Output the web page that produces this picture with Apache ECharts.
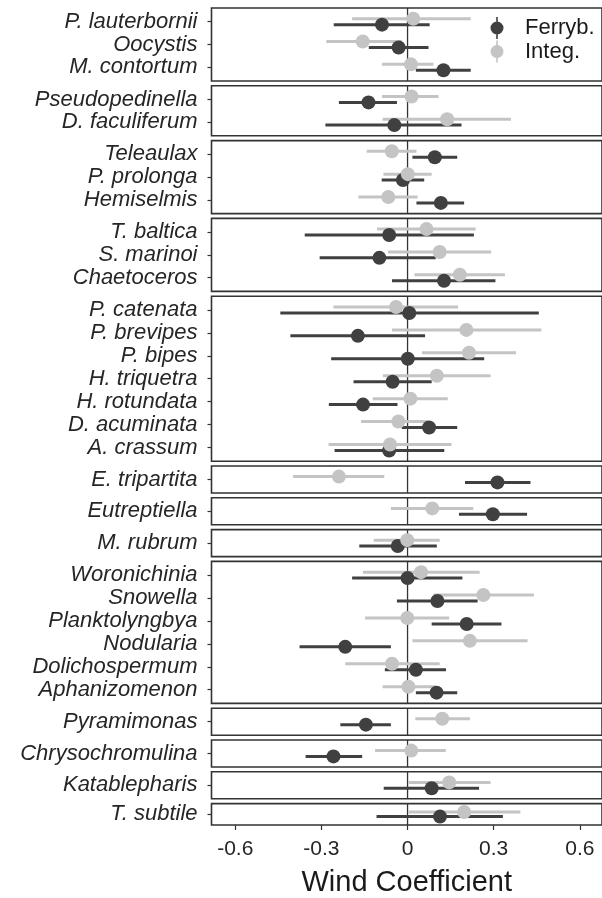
<!DOCTYPE html>
<html>
<head>
<meta charset="utf-8">
<script src="https://cdn.jsdelivr.net/npm/echarts@6/dist/echarts.min.js"></script>
<style>
html,body{margin:0;padding:0;background:#fff;}
#chart{width:602px;height:898px;}
</style>
</head>
<body>
<div id="chart"></div>
<script>
// ---- data ----
const panelSizes = [3, 2, 3, 3, 7, 1, 1, 1, 6, 1, 1, 1, 1];
const taxa = [
  'P. lauterbornii', 'Oocystis', 'M. contortum',
  'Pseudopedinella', 'D. faculiferum',
  'Teleaulax', 'P. prolonga', 'Hemiselmis',
  'T. baltica', 'S. marinoi', 'Chaetoceros',
  'P. catenata', 'P. brevipes', 'P. bipes', 'H. triquetra', 'H. rotundata', 'D. acuminata', 'A. crassum',
  'E. tripartita',
  'Eutreptiella',
  'M. rubrum',
  'Woronichinia', 'Snowella', 'Planktolyngbya', 'Nodularia', 'Dolichospermum', 'Aphanizomenon',
  'Pyramimonas',
  'Chrysochromulina',
  'Katablepharis',
  'T. subtile'
];
const ferrybEst = [-0.089, -0.031, 0.125, -0.136, -0.046, 0.095, -0.016, 0.116, -0.064, -0.098, 0.127,
  0.006, -0.173, 0.001, -0.052, -0.155, 0.075, -0.064, 0.313, 0.297, -0.034,
  0.000, 0.104, 0.206, -0.217, 0.029, 0.101, -0.145, -0.258, 0.084, 0.113];
const ferrybLo = [-0.257, -0.135, 0.029, -0.239, -0.286, 0.017, -0.090, 0.031, -0.358, -0.306, -0.054,
  -0.443, -0.408, -0.266, -0.188, -0.274, -0.020, -0.254, 0.200, 0.179, -0.168,
  -0.193, -0.037, 0.084, -0.376, -0.079, 0.029, -0.234, -0.355, -0.083, -0.108];
const ferrybHi = [0.077, 0.073, 0.220, -0.037, 0.188, 0.173, 0.058, 0.197, 0.231, 0.098, 0.306,
  0.457, 0.061, 0.267, 0.084, -0.035, 0.173, 0.128, 0.428, 0.416, 0.102,
  0.191, 0.244, 0.327, -0.058, 0.134, 0.173, -0.058, -0.158, 0.249, 0.332];
const integEst = [0.020, -0.156, 0.012, 0.014, 0.138, -0.055, 0.001, -0.067, 0.066, 0.112, 0.182,
  -0.040, 0.205, 0.214, 0.102, 0.010, -0.032, -0.061, -0.239, 0.086, -0.001,
  0.047, 0.264, -0.001, 0.217, -0.054, 0.003, 0.121, 0.013, 0.145, 0.197];
const integLo = [-0.193, -0.283, -0.089, -0.089, -0.087, -0.142, -0.084, -0.171, -0.106, -0.068, 0.024,
  -0.258, -0.054, 0.050, -0.086, -0.121, -0.162, -0.275, -0.399, -0.058, -0.118,
  -0.155, 0.090, -0.148, 0.017, -0.217, -0.087, 0.027, -0.113, 0.003, 0.003];
const integHi = [0.220, -0.020, 0.090, 0.108, 0.360, 0.031, 0.084, 0.035, 0.237, 0.291, 0.339,
  0.176, 0.466, 0.378, 0.289, 0.140, 0.070, 0.153, -0.081, 0.229, 0.112,
  0.251, 0.440, 0.145, 0.418, 0.112, 0.098, 0.217, 0.133, 0.289, 0.393];
const xTicks = [-0.6, -0.3, 0, 0.3, 0.6];
const refLineX = 0;
const seriesNames = ['Ferryb.', 'Integ.'];
const xTitle = 'Wind Coefficient';

// ---- styling / layout ----
const FONT = '"Liberation Sans", Arial, Helvetica, sans-serif';
const DARK = '#404040';
const LIGHT = '#c4c4c4';
const AXIS = '#333333';
const TEXT = '#262626';
const rowPx = 23, padPx = 13.5, gapPx = 4.8, topPx = 8;
const gridLeft = 211.5, gridWidth = 392;
const pxPerUnit = 288.3, zeroPx = 408.3;
const xMin = (gridLeft - zeroPx) / pxPerUnit;
const xMax = (gridLeft + gridWidth - zeroPx) / pxPerUnit;
const dodge = 0.13;

const grids = [], xAxes = [], yAxes = [], series = [];
let curTop = topPx, start = 0;
const lastPanel = panelSizes.length - 1;

function barRender(color) {
  return function (params, api) {
    const y = api.value(0);
    const p1 = api.coord([api.value(1), y]);
    const p2 = api.coord([api.value(2), y]);
    return { type: 'line', shape: { x1: p1[0], y1: p1[1], x2: p2[0], y2: p2[1] },
      style: { stroke: color, lineWidth: 3 } };
  };
}

panelSizes.forEach((n, gi) => {
  const h = (n - 1) * rowPx + 2 * padPx;
  grids.push({ left: gridLeft, top: curTop, width: gridWidth, height: h, show: true,
    borderColor: AXIS, borderWidth: 1.6, backgroundColor: 'transparent' });
  curTop += h + gapPx;
  const names = taxa.slice(start, start + n);
  const idx = names.map((_, i) => i);
  const isLast = gi === lastPanel;
  xAxes.push({
    type: 'value', gridIndex: gi, min: xMin, max: xMax, position: 'bottom',
    splitLine: { show: false }, axisLine: { show: false, onZero: false },
    axisTick: { show: isLast, length: 5, customValues: xTicks, lineStyle: { color: AXIS, width: 1.2 } },
    axisLabel: { show: isLast, customValues: xTicks, margin: 14, fontSize: 21, fontFamily: FONT, color: TEXT,
      showMinLabel: true, showMaxLabel: true,
      formatter: v => (Math.abs(v) < 1e-9 ? '0' : v.toFixed(1)) },
    name: isLast ? xTitle : '', nameLocation: 'middle', nameGap: 43,
    nameTextStyle: { fontSize: 29, fontFamily: FONT, color: '#1a1a1a' }
  });
  const yMin = -0.6, yMax = n - 0.4;
  yAxes.push({
    type: 'value', gridIndex: gi, inverse: true, min: yMin, max: yMax, position: 'left',
    splitLine: { show: false }, axisLine: { show: false, onZero: false },
    axisTick: { show: true, length: 4, customValues: idx, lineStyle: { color: AXIS, width: 1.2 } },
    axisLabel: { show: true, customValues: idx, margin: 14, fontSize: 22, fontStyle: 'italic',
      fontFamily: FONT, color: TEXT, formatter: v => names[Math.round(v)] }
  });
  // zero reference line
  series.push({
    type: 'custom', xAxisIndex: gi, yAxisIndex: gi, silent: true, z: 1,
    data: [[refLineX, 0]], encode: { x: 0, y: 1 },
    renderItem: function (params, api) {
      const a = api.coord([api.value(0), yMin]);
      const b = api.coord([api.value(0), yMax]);
      return { type: 'line', shape: { x1: a[0], y1: a[1], x2: b[0], y2: b[1] },
        style: { stroke: AXIS, lineWidth: 1.3 } };
    }
  });
  const fBars = [], iBars = [], fPts = [], iPts = [];
  for (let i = 0; i < n; i++) {
    const k = start + i;
    fBars.push([i + dodge, ferrybLo[k], ferrybHi[k]]);
    iBars.push([i - dodge, integLo[k], integHi[k]]);
    fPts.push([ferrybEst[k], i + dodge]);
    iPts.push([integEst[k], i - dodge]);
  }
  series.push({ type: 'custom', name: seriesNames[0], xAxisIndex: gi, yAxisIndex: gi, z: 2,
    itemStyle: { color: DARK }, data: fBars, encode: { x: [1, 2], y: 0 }, renderItem: barRender(DARK) });
  series.push({ type: 'custom', name: seriesNames[1], xAxisIndex: gi, yAxisIndex: gi, z: 2,
    itemStyle: { color: LIGHT }, data: iBars, encode: { x: [1, 2], y: 0 }, renderItem: barRender(LIGHT) });
  series.push({ type: 'scatter', name: seriesNames[0], xAxisIndex: gi, yAxisIndex: gi, z: 3,
    symbol: 'circle', symbolSize: 14, itemStyle: { color: DARK, opacity: 1 }, data: fPts });
  series.push({ type: 'scatter', name: seriesNames[1], xAxisIndex: gi, yAxisIndex: gi, z: 3,
    symbol: 'circle', symbolSize: 14, itemStyle: { color: LIGHT, opacity: 1 }, data: iPts });
  start += n;
});

const keyIcon = 'path://M6.2,0 H7.8 V22 H6.2 Z M0.5,11 A6.5,6.5 0 1 1 13.5,11 A6.5,6.5 0 1 1 0.5,11 Z';

const option = {
  animation: false,
  backgroundColor: '#ffffff',
  grid: grids,
  xAxis: xAxes,
  yAxis: yAxes,
  legend: {
    orient: 'vertical', left: 490.5, top: 17, padding: 0, itemGap: 1.5,
    itemWidth: 46, itemHeight: 22, selectedMode: false,
    textStyle: { fontSize: 22, fontFamily: FONT, color: '#1a1a1a' },
    data: [
      { name: seriesNames[0], icon: keyIcon, itemStyle: { color: DARK } },
      { name: seriesNames[1], icon: keyIcon, itemStyle: { color: LIGHT } }
    ]
  },
  series: series
};

const chart = echarts.init(document.getElementById('chart'), null, { renderer: 'canvas' });
chart.setOption(option);
</script>
</body>
</html>
